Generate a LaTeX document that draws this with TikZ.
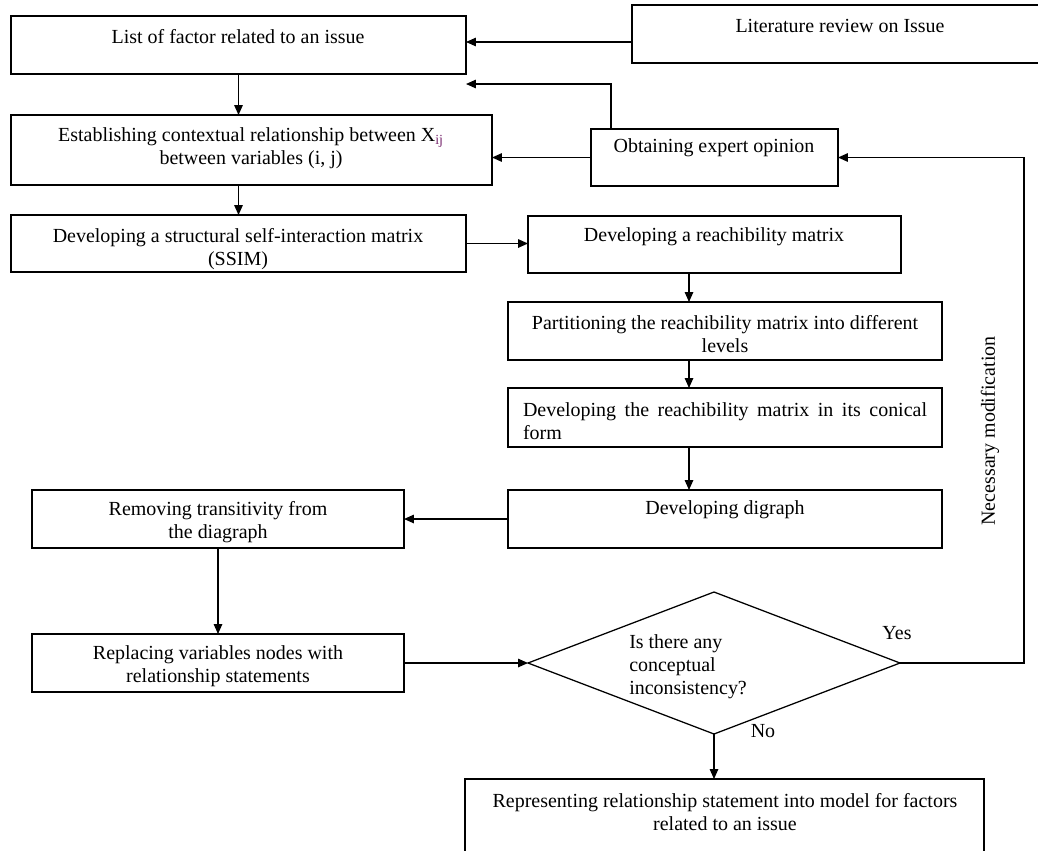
\documentclass[tikz,border=0pt]{standalone}
\usepackage{fontspec}
\setmainfont{Liberation Serif}
\usetikzlibrary{arrows.meta,shapes.geometric,calc}
\definecolor{subcol}{RGB}{120,40,110}
\tikzset{
  box/.style={draw, line width=0.9pt, inner sep=0pt, outer sep=0pt},
  txt/.style={font=\fontsize{14.2}{16.4}\selectfont, align=center, inner sep=0pt},
  arr/.style={-{Triangle[length=7pt,width=6pt]}, line width=0.9pt},
  ln/.style={line width=0.9pt}
}
\newcommand\mkbox[5]{%
  \node[box, minimum width={(#4-#2)*0.025cm}, minimum height={(#5-#3)*0.025cm}] (#1) at ({(#2+#4)/2},{(#3+#5)/2}) {};}
\begin{document}
\begin{tikzpicture}[x=0.025cm, y=-0.025cm]
\useasboundingbox (0,0) rectangle (1038,850);
% boxes
\mkbox{A}{11}{16}{466}{74}
\mkbox{Lit}{632}{5}{1048}{63}
\mkbox{B}{11}{115}{492}{185}
\mkbox{Exp}{591}{129}{838}{186}
\mkbox{C}{11}{215}{466}{272}
\mkbox{D}{528}{216}{901}{273}
\mkbox{E}{508}{302}{942}{360}
\mkbox{F}{508}{388}{942}{447}
\mkbox{G}{508}{490}{942}{548}
\mkbox{H}{32}{490}{404}{548}
\mkbox{I}{32}{634}{404}{692}
\mkbox{R}{465}{779}{984}{870}
\node[draw, diamond, line width=0.9pt, inner sep=0pt, outer sep=0pt,
      minimum width={372*0.025cm}, minimum height={142*0.025cm}] (Dm) at (714,663) {};
% texts
\node[txt] (tA) at (238,37) {List of factor related to an issue};
\node[txt] (tLit) at (840,26) {Literature review on Issue};
\node[txt] (tB) at (251,148) {Establishing contextual relationship between X\textsubscript{\color{subcol}ij}\\between variables (i, j)};
\node[txt] (tExp) at (714,148) {Obtaining expert opinion};
\node[txt] (tC) at (238,249) {Developing a structural self-interaction matrix\\(SSIM)};
\node[txt] (tD) at (714,237) {Developing a reachibility matrix};
\node[txt] (tE) at (725,334) {Partitioning the reachibility matrix into different\\levels};
\node[txt, align=justify, text width={404*0.025cm}] (tF) at (725,421) {Developing the reachibility matrix in its conical\linebreak form};
\node[txt] (tG) at (725,510) {Developing digraph};
\node[txt] (tH) at (218,522) {Removing transitivity from\\the diagraph};
\node[txt] (tI) at (218,666) {Replacing variables nodes with\\relationship statements};
\node[txt, align=left, anchor=west] (tDm) at (629,667) {Is there any\\conceptual\\inconsistency?};
\node[txt] (tR) at (725,812) {Representing relationship statement into model for factors\\related to an issue};
\node[txt] (yes) at (897,633) {Yes};
\node[txt] (no) at (763,731) {No};
\node[txt, rotate=90] (nm) at (990,431) {Necessary modification};
% helper coordinates
\coordinate (y42) at (0,42);
\coordinate (eu) at (611,84);
\coordinate (xc) at (689,0);
\coordinate (fb) at (1024,0);
% connectors
\draw[arr] (Lit.west |- y42) -- (A.east |- y42);
\draw[arr] (Exp.north -| eu) -- (eu) -- (A.east |- eu);
\draw[arr] (Exp.west) -- (Exp.west -| B.east);
\draw[arr] (A.south) -- (A.south |- B.north);
\draw[arr] (B.south -| A.south) -- (C.north);
\draw[arr] (C.east) -- (C.east -| D.west);
\draw[arr] (D.south -| xc) -- (E.north -| xc);
\draw[arr] (E.south -| xc) -- (F.north -| xc);
\draw[arr] (F.south -| xc) -- (G.north -| xc);
\draw[arr] (G.west) -- (G.west -| H.east);
\draw[arr] (H.south) -- (I.north);
\draw[arr] (I.east) -- (Dm.west);
\draw[arr] (Dm.south) -- (Dm.south |- R.north);
\draw[arr] (Dm.east) -- (Dm.east -| fb) -- (fb |- Exp.east) -- (Exp.east);
\end{tikzpicture}
\end{document}
